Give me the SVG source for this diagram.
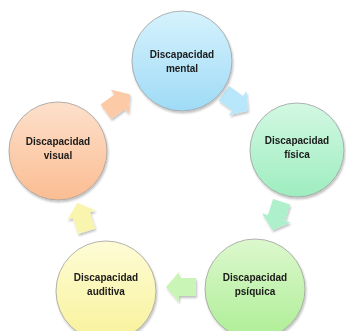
<svg xmlns="http://www.w3.org/2000/svg" width="346" height="331" viewBox="0 0 346 331">
  <style>
    .node { stroke: #a0a0a0; stroke-width: 0.8; }
    .lbl { font-family: "Liberation Sans", Arial, sans-serif; font-weight: bold; font-size: 10px; fill: #1a1a1a; text-anchor: middle; }
    .arr { stroke: none; }
  </style>
  <defs>
    <linearGradient id="gBlue" x1="0" y1="0" x2="0" y2="1">
      <stop offset="0" stop-color="#d6f2fd"/>
      <stop offset="1" stop-color="#9fdbf6"/>
    </linearGradient>
    <linearGradient id="gMint" x1="0" y1="0" x2="0" y2="1">
      <stop offset="0" stop-color="#d3f8e2"/>
      <stop offset="1" stop-color="#9eedc0"/>
    </linearGradient>
    <linearGradient id="gGreen" x1="0" y1="0" x2="0" y2="1">
      <stop offset="0" stop-color="#dcf8cd"/>
      <stop offset="1" stop-color="#aeee96"/>
    </linearGradient>
    <linearGradient id="gYellow" x1="0" y1="0" x2="0" y2="1">
      <stop offset="0" stop-color="#fefcd6"/>
      <stop offset="1" stop-color="#f8f29a"/>
    </linearGradient>
    <linearGradient id="gPeach" x1="0" y1="0" x2="0" y2="1">
      <stop offset="0" stop-color="#fde0cb"/>
      <stop offset="1" stop-color="#fbbd92"/>
    </linearGradient>
    <filter id="sh" x="-20%" y="-20%" width="140%" height="140%">
      <feGaussianBlur in="SourceAlpha" stdDeviation="1"/>
      <feOffset dx="1" dy="1.5" result="b"/>
      <feComponentTransfer><feFuncA type="linear" slope="0.25"/></feComponentTransfer>
      <feMerge><feMergeNode/><feMergeNode in="SourceGraphic"/></feMerge>
    </filter>
    <path id="arrow" d="M-15,-9 L2,-9 L2,-15 L15,0 L2,15 L2,9 L-15,9 Z"/>
  </defs>

  <g id="connectors" filter="url(#sh)">
    <use href="#arrow" class="arr" fill="#b8e6fa" transform="translate(236,102) rotate(36)"/>
    <use href="#arrow" class="arr" fill="#aef0cb" transform="translate(277,216) rotate(108)"/>
    <use href="#arrow" class="arr" fill="#c9f5b6" transform="translate(181,287) rotate(180)"/>
    <use href="#arrow" class="arr" fill="#faf5ae" transform="translate(82,217) rotate(252)"/>
    <use href="#arrow" class="arr" fill="#fccaa6" transform="translate(118,103) rotate(-36)"/>
  </g>

  <g id="mental" filter="url(#sh)">
    <circle class="node" cx="182" cy="61" r="50" fill="url(#gBlue)"/>
    <text class="lbl" x="182" y="58">Discapacidad</text>
    <text class="lbl" x="182" y="72">mental</text>
  </g>
  <g id="fisica" filter="url(#sh)">
    <circle class="node" cx="297" cy="150" r="47" fill="url(#gMint)"/>
    <text class="lbl" x="297" y="144">Discapacidad</text>
    <text class="lbl" x="297" y="158">física</text>
  </g>
  <g id="psiquica" filter="url(#sh)">
    <circle class="node" cx="255" cy="289" r="50" fill="url(#gGreen)"/>
    <text class="lbl" x="255" y="281">Discapacidad</text>
    <text class="lbl" x="255" y="295">psíquica</text>
  </g>
  <g id="auditiva" filter="url(#sh)">
    <circle class="node" cx="106" cy="291" r="50" fill="url(#gYellow)"/>
    <text class="lbl" x="106" y="281">Discapacidad</text>
    <text class="lbl" x="106" y="295">auditiva</text>
  </g>
  <g id="visual" filter="url(#sh)">
    <circle class="node" cx="58" cy="151" r="49" fill="url(#gPeach)"/>
    <text class="lbl" x="58" y="145">Discapacidad</text>
    <text class="lbl" x="58" y="159">visual</text>
  </g>
</svg>
